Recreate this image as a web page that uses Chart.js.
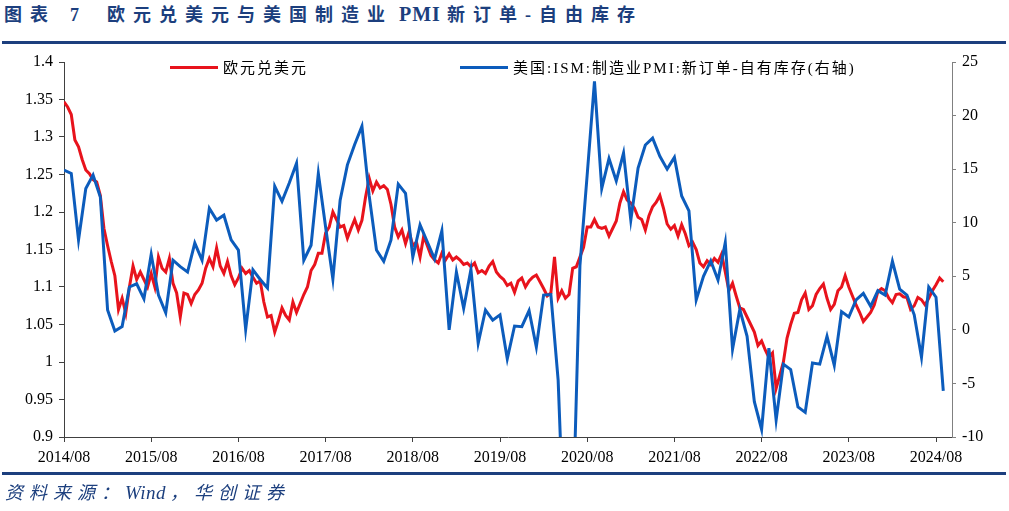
<!DOCTYPE html>
<html>
<head>
<meta charset="utf-8">
<script src="https://cdn.jsdelivr.net/npm/chart.js@4"></script>
<style>
  body { margin: 0; width: 1009px; height: 511px; background: #fff; position: relative; overflow: hidden; }
  #chart { position: absolute; left: 0; top: 0; }
  .navy { color: #1c3f7e; }
  #title { position: absolute; left: 4px; top: 3px; font-weight: bold; font-size: 18px; line-height: 22px; white-space: nowrap;
           font-family: 'Liberation Serif', 'Noto Sans CJK SC', serif; }
  #title .cjk { letter-spacing: 8px; }
  #title .lat { font-size: 20px; letter-spacing: 1px; }
  .rule { position: absolute; left: 2px; width: 1004px; height: 2.5px; background: #1c3f7e; }
  #footer { position: absolute; left: 5px; top: 482px; font-style: italic; font-size: 18px; line-height: 22px; letter-spacing: 6px;
            white-space: nowrap; font-family: 'Liberation Serif', 'Noto Sans CJK SC', serif; }
  #footer .lat { font-size: 19px; letter-spacing: 0.5px; margin-right: 4px; }
  .legend { position: absolute; top: 59px; font-size: 15px; line-height: 18px; letter-spacing: 2px; white-space: nowrap;
            font-family: 'Liberation Serif', 'Noto Sans CJK SC', serif; color: #000; }
  .legend i { display: inline-block; width: 48px; height: 3px; vertical-align: middle; margin-right: 5px; position: relative; top: -2px; }
</style>
</head>
<body>
<div id="title" class="navy"><span class="cjk">图表</span><span style="margin-left:14px">7</span><span class="cjk" style="margin-left:28px">欧元兑美元与美国制造业</span><span class="lat"> PMI </span><span class="cjk">新订单-自由库存</span></div>
<div class="rule" style="top:41px"></div>
<canvas id="chart" width="1009" height="511"></canvas>
<div class="legend" style="left:170px"><i style="background:#e8131c"></i>欧元兑美元</div>
<div class="legend" style="left:460px"><i style="background:#0c5cbc"></i>美国:ISM:制造业PMI:新订单-自有库存(右轴)</div>
<div class="rule" style="top:472px"></div>
<div id="footer" class="navy">资料来源：<span class="lat">Wind</span>，华创证券</div>

<script>
// x axis: months counted from 2014/08
const xLabels = ['2014/08', '2015/08', '2016/08', '2017/08', '2018/08', '2019/08',
                 '2020/08', '2021/08', '2022/08', '2023/08', '2024/08'];
const leftTicks = [0.9, 0.95, 1, 1.05, 1.1, 1.15, 1.2, 1.25, 1.3, 1.35, 1.4];
const rightTicks = [-10, -5, 0, 5, 10, 15, 20, 25];

// EUR/USD, one value every half month
const eurUsd = [
  1.347, 1.340, 1.330, 1.296, 1.287, 1.270, 1.256, 1.251, 1.243, 1.240, 1.222, 1.178,
  1.155, 1.134, 1.115, 1.070, 1.085, 1.065, 1.100, 1.128, 1.110, 1.120, 1.110, 1.100,
  1.118, 1.100, 1.140, 1.125, 1.120, 1.138, 1.105, 1.092, 1.060, 1.092, 1.090, 1.078,
  1.090, 1.096, 1.105, 1.125, 1.138, 1.127, 1.152, 1.128, 1.118, 1.134, 1.115, 1.103,
  1.112, 1.125, 1.118, 1.122, 1.113, 1.105, 1.108, 1.080, 1.060, 1.062, 1.040, 1.055,
  1.072, 1.062, 1.056, 1.080, 1.066, 1.078, 1.090, 1.100, 1.122, 1.130, 1.145, 1.145,
  1.172, 1.180, 1.200, 1.190, 1.180, 1.182, 1.165, 1.178, 1.190, 1.176, 1.189, 1.220,
  1.245, 1.228, 1.240, 1.232, 1.235, 1.230, 1.210, 1.180, 1.167, 1.176, 1.158, 1.174,
  1.155, 1.160, 1.140, 1.168, 1.155, 1.142, 1.136, 1.132, 1.145, 1.136, 1.144, 1.136,
  1.140, 1.136, 1.130, 1.132, 1.127, 1.132, 1.119, 1.122, 1.118, 1.128, 1.134, 1.120,
  1.114, 1.110, 1.102, 1.105, 1.093, 1.108, 1.112, 1.100, 1.108, 1.113, 1.116, 1.107,
  1.098, 1.088, 1.092, 1.140, 1.085, 1.095, 1.085, 1.090, 1.125, 1.127, 1.140, 1.153,
  1.180, 1.180, 1.190, 1.180, 1.178, 1.180, 1.168, 1.178, 1.188, 1.212, 1.227, 1.216,
  1.212, 1.205, 1.193, 1.190, 1.176, 1.195, 1.207, 1.213, 1.222, 1.205, 1.184, 1.177,
  1.182, 1.168, 1.183, 1.171, 1.155, 1.160, 1.150, 1.132, 1.127, 1.135, 1.130, 1.138,
  1.133, 1.144, 1.120, 1.095, 1.105, 1.088, 1.072, 1.070, 1.060, 1.050, 1.040, 1.022,
  1.028, 1.016, 1.006, 1.012, 0.965, 0.982, 1.000, 1.032, 1.050, 1.065, 1.066, 1.083,
  1.092, 1.070, 1.075, 1.090, 1.098, 1.104, 1.085, 1.070, 1.077, 1.095, 1.100, 1.115,
  1.100, 1.088, 1.076, 1.066, 1.054, 1.060, 1.066, 1.076, 1.094, 1.098, 1.095, 1.085,
  1.079, 1.090, 1.091, 1.087, 1.086, 1.070, 1.075, 1.086, 1.083, 1.076, 1.085, 1.095,
  1.103, 1.112, 1.107
];

// ISM new orders minus inventories, monthly
const ismSpread = [
  14.9, 14.6, 8.4, 13.2, 14.45, 12.4, 1.85, -0.1, 0.3, 4.0, 4.3, 2.9,
  7.05, 3.25, 1.6, 6.5, 5.9, 5.4, 8.1, 6.5, 11.35, 10.25, 10.7, 8.4,
  7.45, 0.05, 5.6, 4.7, 3.9, 13.4, 12.0, 13.7, 15.55, 6.5, 7.9, 14.6,
  9.6, 4.75, 12.1, 15.4, 17.3, 19.0, 12.5, 7.45, 6.4, 8.4, 13.6, 12.75,
  6.8, 9.8, 8.2, 6.6, 9.25, 0.0, 5.4, 2.0, 5.65, -1.25, 1.85, 0.9,
  1.4, -2.7, 0.36, 0.3, 1.8, -1.6, 3.25, 3.3, -4.7, -22.6, -18.6, 6.0,
  14.5, 23.2, 13.2, 16.0, 13.9, 16.5, 10.25, 15.1, 17.25, 17.9, 16.2, 15.0,
  16.1, 12.5, 11.1, 2.8, 5.0, 6.45, 4.65, 8.15, -1.8, 1.9, -0.6, -6.7,
  -9.3, -1.7, -8.4, -3.2, -3.7, -7.2, -7.7, -3.1, -3.2, -0.6, -3.3, 1.7,
  1.2, 2.8, 3.4, 2.2, 3.65, 3.25, 6.4, 3.8, 3.25, 1.4, -2.55, 4.0,
  3.05, -5.7
];

const tickFont = { family: 'Liberation Serif', size: 16 };

new Chart(document.getElementById('chart'), {
  type: 'line',
  data: {
    datasets: [
      {
        label: '欧元兑美元',
        data: eurUsd.map((y, i) => ({ x: i * 0.5, y })),
        borderColor: '#e8131c',
        borderWidth: 3,
        pointRadius: 0,
        yAxisID: 'yL',
        order: 1,
      },
      {
        label: '美国:ISM:制造业PMI:新订单-自有库存(右轴)',
        data: ismSpread.map((y, i) => ({ x: i, y })),
        borderColor: '#0c5cbc',
        borderWidth: 3,
        pointRadius: 0,
        yAxisID: 'yR',
        order: 0,
      }
    ]
  },
  options: {
    responsive: false,
    animation: false,
    layout: { padding: { top: 62, bottom: 37, left: 0, right: 0 } },
    plugins: { legend: { display: false }, tooltip: { enabled: false } },
    scales: {
      x: {
        type: 'linear',
        min: 0,
        max: 122.2,
        afterBuildTicks: (s) => { s.ticks = xLabels.map((_, i) => ({ value: i * 12 })); },
        afterFit: (s) => { s.height = 37; },
        ticks: {
          autoSkip: false, maxRotation: 0, color: '#000', font: tickFont, padding: 6,
          callback: (v) => xLabels[Math.round(v / 12)]
        },
        grid: { drawOnChartArea: false, tickLength: 5, color: '#404040' },
        border: { color: '#404040' }
      },
      yL: {
        position: 'left',
        min: 0.9,
        max: 1.4,
        afterBuildTicks: (s) => { s.ticks = leftTicks.map(v => ({ value: v })); },
        afterFit: (s) => { s.width = 64; },
        ticks: { color: '#000', font: tickFont, padding: 6, callback: (v) => String(+v.toFixed(2)) },
        grid: { drawOnChartArea: false, tickLength: 5, color: '#404040' },
        border: { color: '#404040' }
      },
      yR: {
        position: 'right',
        min: -10,
        max: 25,
        afterBuildTicks: (s) => { s.ticks = rightTicks.map(v => ({ value: v })); },
        afterFit: (s) => { s.width = 57; },
        ticks: { color: '#000', font: tickFont, padding: 6 },
        grid: { drawOnChartArea: false, tickLength: 4, color: '#808080' },
        border: { color: '#808080' }
      }
    }
  }
});
</script>
</body>
</html>
